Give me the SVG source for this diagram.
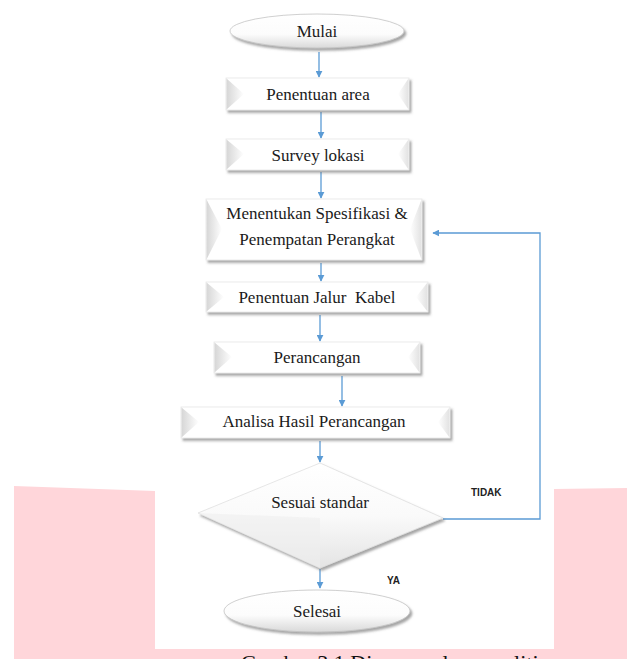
<svg xmlns="http://www.w3.org/2000/svg" width="627" height="659" viewBox="0 0 627 659">
<defs>
  <filter id="sh" x="-10%" y="-20%" width="125%" height="160%">
    <feDropShadow dx="2" dy="2.5" stdDeviation="1.3" flood-color="#6b6b6b" flood-opacity="0.6"/>
  </filter>
  <linearGradient id="bevL" x1="0" y1="0" x2="1" y2="0">
    <stop offset="0" stop-color="#d6d6d6"/>
    <stop offset="1" stop-color="#ffffff"/>
  </linearGradient>
  <linearGradient id="bevR" x1="1" y1="0" x2="0" y2="0">
    <stop offset="0" stop-color="#e2e2e2"/>
    <stop offset="1" stop-color="#ffffff"/>
  </linearGradient>
  <linearGradient id="ellG" x1="0" y1="0" x2="0" y2="1">
    <stop offset="0" stop-color="#ffffff"/>
    <stop offset="0.6" stop-color="#fcfcfc"/>
    <stop offset="1" stop-color="#d9d9d9"/>
  </linearGradient>
  <linearGradient id="diaG" x1="0" y1="0" x2="0" y2="1">
    <stop offset="0" stop-color="#ffffff"/>
    <stop offset="0.5" stop-color="#fafafa"/>
    <stop offset="1" stop-color="#e4e4e4"/>
  </linearGradient>
  <marker id="ah" viewBox="0 0 10 10" refX="9" refY="5" markerWidth="7" markerHeight="7" orient="auto" markerUnits="userSpaceOnUse">
    <path d="M0,0 L10,5 L0,10 z" fill="#5b9bd5"/>
  </marker>
  <style>
    .box{fill:#ffffff;stroke:#e6e6e6;stroke-width:0.8;filter:url(#sh)}
    .bl{fill:url(#bevL)}
    .br{fill:url(#bevR)}
    .ell{fill:url(#ellG);stroke:#c4c4c4;stroke-width:0.8;filter:url(#sh)}
    .t{font-family:"Liberation Serif","Times New Roman",serif;font-size:17px;fill:#1a1a1a;text-anchor:middle}
    .lbl{font-family:"Liberation Sans",Arial,sans-serif;font-size:10px;font-weight:bold;fill:#222}
    .c{fill:none;stroke:#5b9bd5;stroke-width:1.3;marker-end:url(#ah)}
    .pink{fill:#ffd6da}
  </style>
</defs>
<rect width="627" height="659" fill="#ffffff"/>
<g id="background">
  <polygon class="pink" points="14,486 155,491 155,659 14,659"/>
  <polygon class="pink" points="554,489 627,488 627,659 554,659"/>
  <rect class="pink" x="14" y="649" width="613" height="10"/>
  <text x="241" y="670" style="font-family:'Liberation Serif','Times New Roman',serif;font-size:22px;fill:#111">Gambar 3.1 Diagram alur penelitian</text>
</g>
<g id="connectors">
  <line class="c" x1="319" y1="52" x2="319" y2="77"/>
  <line class="c" x1="321" y1="112" x2="321" y2="138"/>
  <line class="c" x1="321" y1="172" x2="321" y2="198"/>
  <line class="c" x1="321" y1="263" x2="321" y2="281"/>
  <line class="c" x1="320" y1="315" x2="320" y2="341"/>
  <line class="c" x1="342" y1="376" x2="342" y2="406"/>
  <line class="c" x1="320" y1="441" x2="320" y2="462"/>
  <line class="c" x1="320" y1="569" x2="320" y2="588"/>
  <polyline class="c" points="443,519 540,519 540,233 433,233"/>
</g>
<g id="mulai">
  <ellipse class="ell" cx="317" cy="31" rx="87" ry="17"/>
  <text class="t" x="317" y="37">Mulai</text>
</g>
<g id="penentuan-area">
  <rect class="box" x="226" y="78" width="183" height="32"/>
  <polygon class="bl" points="226.5,78.5 244,94 226.5,109.5"/>
  <polygon class="br" points="408.5,78.5 398,94 408.5,109.5"/>
  <text class="t" x="318" y="100">Penentuan area</text>
</g>
<g id="survey-lokasi">
  <rect class="box" x="226" y="139" width="183" height="31"/>
  <polygon class="bl" points="226.5,139.5 244,154 226.5,169.5"/>
  <polygon class="br" points="408.5,139.5 398,154 408.5,169.5"/>
  <text class="t" x="318" y="161">Survey lokasi</text>
</g>
<g id="spesifikasi">
  <rect class="box" x="206" y="199" width="216" height="61"/>
  <polygon class="bl" points="206.5,199.5 222,229 206.5,259.5"/>
  <polygon class="br" points="421.5,199.5 410,229 421.5,259.5"/>
  <text class="t" x="317" y="219">Menentukan Spesifikasi &amp;</text>
  <text class="t" x="317" y="245">Penempatan Perangkat</text>
</g>
<g id="jalur-kabel">
  <rect class="box" x="206" y="282" width="222" height="30"/>
  <polygon class="bl" points="206.5,282.5 224,297 206.5,311.5"/>
  <polygon class="br" points="427.5,282.5 416,297 427.5,311.5"/>
  <text class="t" x="317" y="303" xml:space="preserve">Penentuan Jalur  Kabel</text>
</g>
<g id="perancangan">
  <rect class="box" x="214" y="342" width="206" height="31"/>
  <polygon class="bl" points="214.5,342.5 232,357 214.5,372.5"/>
  <polygon class="br" points="419.5,342.5 408,357 419.5,372.5"/>
  <text class="t" x="317" y="363">Perancangan</text>
</g>
<g id="analisa">
  <rect class="box" x="181" y="407" width="269" height="31"/>
  <polygon class="bl" points="181.5,407.5 199,422 181.5,437.5"/>
  <polygon class="br" points="449.5,407.5 438,422 449.5,437.5"/>
  <text class="t" x="314" y="427">Analisa Hasil Perancangan</text>
</g>
<g id="sesuai-standar">
  <polygon points="320,463 443,518 320,568 198,513" style="fill:url(#diaG);stroke:#e0e0e0;stroke-width:0.8;filter:url(#sh)"/>
  <polygon points="198,513 320,518 320,568" fill="#eeeeee" opacity="0.6"/>
  <text class="t" x="320" y="508">Sesuai standar</text>
  <text class="lbl" x="471" y="496">TIDAK</text>
  <text class="lbl" x="387" y="584">YA</text>
</g>
<g id="selesai">
  <ellipse class="ell" cx="317" cy="611" rx="93" ry="21"/>
  <text class="t" x="317" y="617">Selesai</text>
</g>
</svg>
